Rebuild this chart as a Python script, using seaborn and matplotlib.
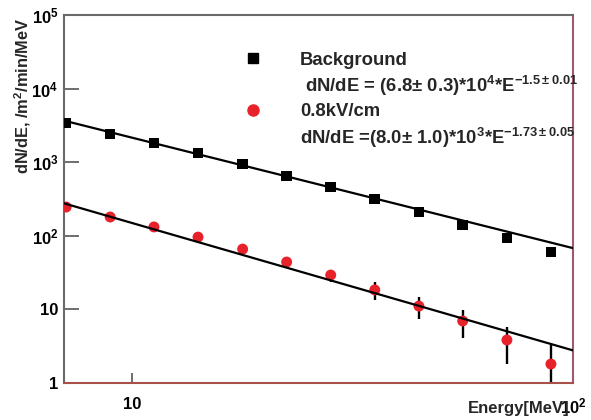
import numpy as np
import pandas as pd
import matplotlib
matplotlib.use("Agg")
import matplotlib.pyplot as plt
import seaborn as sns
from matplotlib.lines import Line2D
from matplotlib.ticker import FixedLocator, FixedFormatter, LogLocator, NullFormatter

# Measured spectra (energy bins in MeV, rates in /m^2/min/MeV)
energy = [7.08, 8.91, 11.2, 14.1, 17.8, 22.4, 28.2, 35.5, 44.7, 56.2, 70.8, 89.1]
background = [3410, 2420, 1820, 1340, 946, 650, 460, 316, 211, 140, 93, 60]
field_08 = [246, 180, 132, 96, 66, 44, 29.3, 18.4, 11.1, 6.96, 3.84, 1.81]
field_08_err = [0, 0, 0, 0, 3, 6, 5.5, 5, 3.6, 2.9, 2.0, 1.5]

# Power-law fit parameters dN/dE = A * E^gamma
bg_norm, bg_index = 6.8e4, -1.5
fd_norm, fd_index = 8.0e3, -1.73

x_ticks = [10, 100]
x_ticklabels = ["10", "$10^{2}$"]
y_ticks = [1, 10, 100, 1e3, 1e4, 1e5]
y_ticklabels = ["1", "10", "$10^{2}$", "$10^{3}$", "$10^{4}$", "$10^{5}$"]

series_labels = ["Background", "0.8kV/cm"]
fit_labels = [" dN/dE = (6.8$\\pm$ 0.3)*10$^{4}$*E$^{-1.5 \\pm 0.01}$",
              "dN/dE =(8.0$\\pm$ 1.0)*10$^{3}$*E$^{-1.73 \\pm 0.05}$"]

RED = "#e8222a"

sns.set_theme(style="white")
plt.rcParams["font.family"] = ["Liberation Sans", "DejaVu Sans"]
plt.rcParams["font.weight"] = "bold"
plt.rcParams["mathtext.fontset"] = "custom"
plt.rcParams["mathtext.rm"] = "Liberation Sans:bold"
plt.rcParams["mathtext.bf"] = "Liberation Sans:bold"
plt.rcParams["mathtext.it"] = "Liberation Sans:bold"
plt.rcParams["mathtext.sf"] = "Liberation Sans:bold"
plt.rcParams["mathtext.default"] = "rm"

fig = plt.figure(figsize=(5.91, 4.2), dpi=100)
ax = fig.add_axes([64 / 591, 37 / 420, 509 / 591, 368 / 420])

df_bg = pd.DataFrame({"E": energy, "rate": background})
df_fd = pd.DataFrame({"E": energy, "rate": field_08, "err": field_08_err})

e_fit = np.geomspace(7, 100, 60)
fit_bg = pd.DataFrame({"E": e_fit, "rate": bg_norm * e_fit ** bg_index})
fit_fd = pd.DataFrame({"E": e_fit, "rate": fd_norm * e_fit ** fd_index})

ax.errorbar(df_fd["E"], df_fd["rate"], yerr=df_fd["err"], fmt="none",
            ecolor="black", elinewidth=1.7, capsize=0, zorder=2)
sns.scatterplot(data=df_bg, x="E", y="rate", marker="s", color="black",
                s=58, edgecolor="none", ax=ax, zorder=3, legend=False)
sns.scatterplot(data=df_fd, x="E", y="rate", marker="o", color=RED,
                s=62, edgecolor="none", ax=ax, zorder=3, legend=False)
sns.lineplot(data=fit_bg, x="E", y="rate", color="black", lw=1.6, ax=ax, zorder=4)
sns.lineplot(data=fit_fd, x="E", y="rate", color="black", lw=1.6, ax=ax, zorder=4)

ax.set_xscale("log")
ax.set_yscale("log")
ax.set_xlim(7, 100)
ax.set_ylim(1, 1e5)

ax.xaxis.set_major_locator(FixedLocator(x_ticks))
ax.xaxis.set_major_formatter(FixedFormatter(x_ticklabels))
ax.xaxis.set_minor_locator(LogLocator(base=10, subs=np.arange(2, 10)))
ax.xaxis.set_minor_formatter(NullFormatter())
ax.yaxis.set_major_locator(FixedLocator(y_ticks))
ax.yaxis.set_major_formatter(FixedFormatter(y_ticklabels))
ax.yaxis.set_minor_locator(LogLocator(base=10, subs=np.arange(2, 10)))
ax.yaxis.set_minor_formatter(NullFormatter())

ax.tick_params(axis="both", which="both", direction="in", colors="#555555",
               labelcolor="black", width=1.2)
ax.tick_params(axis="x", which="major", length=7.5, pad=10, labelsize=12)
ax.tick_params(axis="x", which="minor", length=3.6)
ax.tick_params(axis="y", which="major", length=11, pad=4, labelsize=12)
ax.tick_params(axis="y", which="minor", length=5.8)
ax.tick_params(left=True, bottom=True, right=False, top=False)

for side, col in [("top", "#6a6a6a"), ("left", "#6a6a6a"),
                  ("bottom", "#a8504a"), ("right", "#a05a6e")]:
    ax.spines[side].set_visible(True)
    ax.spines[side].set_color(col)
    ax.spines[side].set_linewidth(1.5)

ax.set_xlabel("Energy[MeV]", loc="right", fontsize=12, fontweight="bold")
ax.xaxis.set_label_coords(0.994, -0.05)
ax.set_ylabel("dN/dE, /m$^{2}$/min/MeV", loc="top", fontsize=11.8,
              fontweight="bold")
ax.yaxis.set_label_coords(-0.06, 0.992)

handles = [Line2D([], [], marker="s", color="black", linestyle="none", markersize=7.5),
           Line2D([], [], linestyle="none"),
           Line2D([], [], marker="o", color=RED, linestyle="none", markersize=8),
           Line2D([], [], linestyle="none")]
labels = [series_labels[0], fit_labels[0], series_labels[1], fit_labels[1]]
ax.legend(handles, labels, loc="upper left", bbox_to_anchor=(0.335, 0.9),
          frameon=False, handlelength=2.0, handletextpad=1.54,
          borderaxespad=0, borderpad=0, labelspacing=0.28,
          prop={"weight": "bold", "size": 13.3})

fig.savefig("out.png", dpi=100)
